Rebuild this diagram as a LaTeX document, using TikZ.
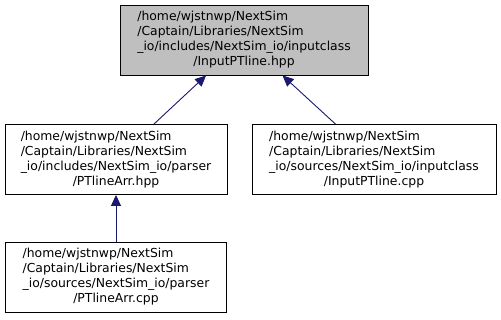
\documentclass[tikz,border=0pt]{standalone}
\usepackage{fontspec}
\setmainfont{DejaVu Sans}
\usepackage{xcolor}
\usetikzlibrary{arrows.meta}

\definecolor{edgeblue}{RGB}{25,25,112}
\definecolor{topgray}{RGB}{191,191,191}

% four path lines, the last one centred
\newcommand{\fpath}[4]{\begin{tabular}{@{}l@{}}#1\\#2\\#3\\\multicolumn{1}{@{}c@{}}{#4}\end{tabular}}

\begin{document}
\begin{tikzpicture}[x=1pt,y=-1pt,
  box/.style={draw=black,fill=white,line width=0.9pt,minimum height=70pt,inner sep=0pt,
    font=\fontsize{12.4}{15}\selectfont},
  dep/.style={draw=edgeblue,line width=0.9pt,-{Triangle[length=11pt,width=10pt,fill=edgeblue]}}]

\useasboundingbox (0,0) rectangle (501,319);

\node[box,fill=topgray,minimum width=248pt] (a) at (244,40)
  {\fpath{/home/wjstnwp/NextSim}{/Captain/Libraries/NextSim}{\_io/includes/NextSim\_io/inputclass}{/InputPTline.hpp}};
\node[box,minimum width=222pt] (b) at (116,159.5)
  {\fpath{/home/wjstnwp/NextSim}{/Captain/Libraries/NextSim}{\_io/includes/NextSim\_io/parser}{/PTlineArr.hpp}};
\node[box,minimum width=244pt] (c) at (374,159.5)
  {\fpath{/home/wjstnwp/NextSim}{/Captain/Libraries/NextSim}{\_io/sources/NextSim\_io/inputclass}{/InputPTline.cpp}};
\node[box,minimum width=221pt] (d) at (116,277)
  {\fpath{/home/wjstnwp/NextSim}{/Captain/Libraries/NextSim}{\_io/sources/NextSim\_io/parser}{/PTlineArr.cpp}};

\draw[dep] (b) -- (a);
\draw[dep] (c) -- (a);
\draw[dep] (d) -- (b);

\end{tikzpicture}
\end{document}
